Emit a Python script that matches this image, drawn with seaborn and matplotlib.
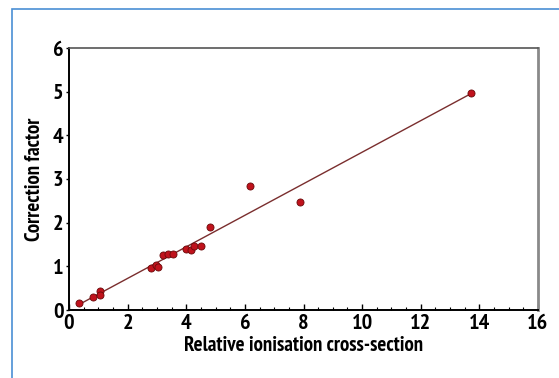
import numpy as np
import pandas as pd
import matplotlib
matplotlib.use("Agg")
import matplotlib.pyplot as plt
import seaborn as sns
from matplotlib.patches import Rectangle
from matplotlib.ticker import MultipleLocator

# values
cross_section = [0.35, 0.83, 1.06, 1.06, 2.81, 2.96, 3.04, 3.21, 3.38, 3.54,
                 3.99, 4.16, 4.25, 4.51, 4.80, 6.18, 7.88, 13.7]
correction = [0.17, 0.29, 0.44, 0.34, 0.97, 1.02, 0.98, 1.27, 1.28, 1.28,
              1.40, 1.37, 1.47, 1.47, 1.91, 2.83, 2.47, 4.97]

df = pd.DataFrame({"x": cross_section, "y": correction})

sns.set_style("white")
plt.rcParams['font.family'] = ['PT Sans Narrow', 'DejaVu Sans']
plt.rcParams['font.weight'] = 'bold'
plt.rcParams['text.color'] = 'black'
plt.rcParams['axes.labelcolor'] = 'black'
plt.rcParams['xtick.color'] = 'black'
plt.rcParams['ytick.color'] = 'black'

fig = plt.figure(figsize=(5.59, 3.78), dpi=100)
ax = fig.add_axes([69 / 559, 1 - 310 / 378, (538 - 69) / 559, (310 - 48) / 378])

sns.regplot(data=df, x="x", y="y", ax=ax, ci=None, truncate=True,
            scatter_kws=dict(s=26, color="#c0121c", edgecolor="#6a0a0a", linewidths=0.6, alpha=1, zorder=3),
            line_kws=dict(color="#7a2e2e", lw=1.0, zorder=2))

ax.set_xlim(0, 16)
ax.set_ylim(0, 6)
ax.xaxis.set_major_locator(MultipleLocator(2))
ax.xaxis.set_minor_locator(MultipleLocator(0.5))
ax.yaxis.set_major_locator(MultipleLocator(1))
ax.tick_params(axis="x", which="major", direction="in", length=4, width=1, labelsize=16, pad=3)
ax.tick_params(axis="x", which="minor", direction="in", length=2.5, width=0.8)
ax.tick_params(axis="y", which="major", direction="out", length=2, width=1, labelsize=16, pad=2)
ax.tick_params(bottom=True, left=True, which="both")
ax.tick_params(axis="y", which="minor", left=False)

ax.set_xlabel("Relative ionisation cross-section", fontsize=15, fontweight="bold", labelpad=2)
ax.set_ylabel("Correction factor", fontsize=15, fontweight="bold", labelpad=6)

for side in ["left", "bottom"]:
    ax.spines[side].set_color("black")
    ax.spines[side].set_linewidth(1.4)
ax.spines["top"].set_color("#555555")
ax.spines["top"].set_linewidth(1.2)
ax.spines["right"].set_color("#8a8a8a")
ax.spines["right"].set_linewidth(2.0)

# blue frame around the figure
fig.patches.append(Rectangle((12 / 559, -0.05), 1.1, 1 - 9 / 378 + 0.05,
                             transform=fig.transFigure, fill=False,
                             edgecolor="#4a8fd4", linewidth=1.2))

fig.savefig("out.png", dpi=100)
